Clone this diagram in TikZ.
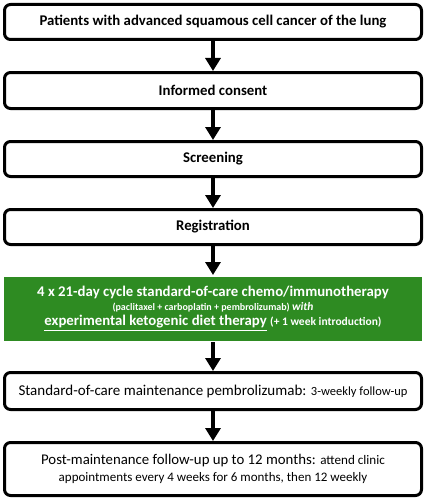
\documentclass[tikz,border=0pt]{standalone}
\usepackage{fontspec}
\setmainfont{Carlito}
\usepackage{xcolor}
\usetikzlibrary{arrows.meta,positioning}
\definecolor{KGreen}{HTML}{2E8B22}
\definecolor{KLine}{HTML}{000000}
\newcommand{\bigtxt}{\fontsize{14.8}{17}\selectfont\bfseries}
\newcommand{\smalltxt}[1]{\fontsize{#1}{13}\selectfont}

\begin{document}
\begin{tikzpicture}[
  every node/.style={font=\bigtxt},
  node distance=30pt,
  stepbox/.style={draw=KLine,line width=3pt,rounded corners=6pt,fill=white,
    minimum width=417pt,minimum height=35pt,align=center,inner sep=1pt},
  trialbox/.style={fill=KGreen,line width=3pt,text=white,
    minimum width=418pt,minimum height=64pt,align=center,inner sep=1pt},
  plain/.style={font=\fontsize{15}{17}\selectfont},
  arr/.style={-{Triangle[width=15pt,length=13pt]},line width=4pt,color=KLine}
]
  \useasboundingbox (0,0) rectangle (427pt,-503pt);

  \node[stepbox,anchor=north] (patients) at (213pt,-3pt)
    {Patients with advanced squamous cell cancer of the lung};
  \node[stepbox,below=of patients,minimum height=36pt] (consent) {Informed consent};
  \node[stepbox,below=of consent] (screen) {Screening};
  \node[stepbox,below=of screen] (regist) {Registration};
  \node[trialbox,below=29pt of regist] (diet) {4 x 21-day cycle standard-of-care chemo/immunotherapy\\[-3pt]
    {\smalltxt{10}(paclitaxel + carboplatin + pembrolizumab) {\fontsize{11.5}{13}\selectfont\itshape with}}\\[-2pt]
    \underline{experimental ketogenic diet therapy} {\smalltxt{11.5}(+ 1 week introduction)}};
  \node[stepbox,plain,below=29pt of diet,minimum height=37pt] (maint)
    {Standard-of-care maintenance pembrolizumab: {\smalltxt{12.5}3-weekly follow-up}};
  \node[stepbox,below=of maint,minimum height=53pt,font=\fontsize{14.8}{17}\selectfont] (post)
    {Post-maintenance follow-up up to 12 months: {\smalltxt{13.1}attend clinic}\\
    {\smalltxt{13}appointments every 4 weeks for 6 months, then 12 weekly}};

  \draw[arr] (patients) -- (consent);
  \draw[arr] (consent) -- (screen);
  \draw[arr] (screen) -- (regist);
  \draw[arr] (regist) -- (diet);
  \draw[arr] (diet) -- (maint);
  \draw[arr] (maint) -- (post);
\end{tikzpicture}
\end{document}
